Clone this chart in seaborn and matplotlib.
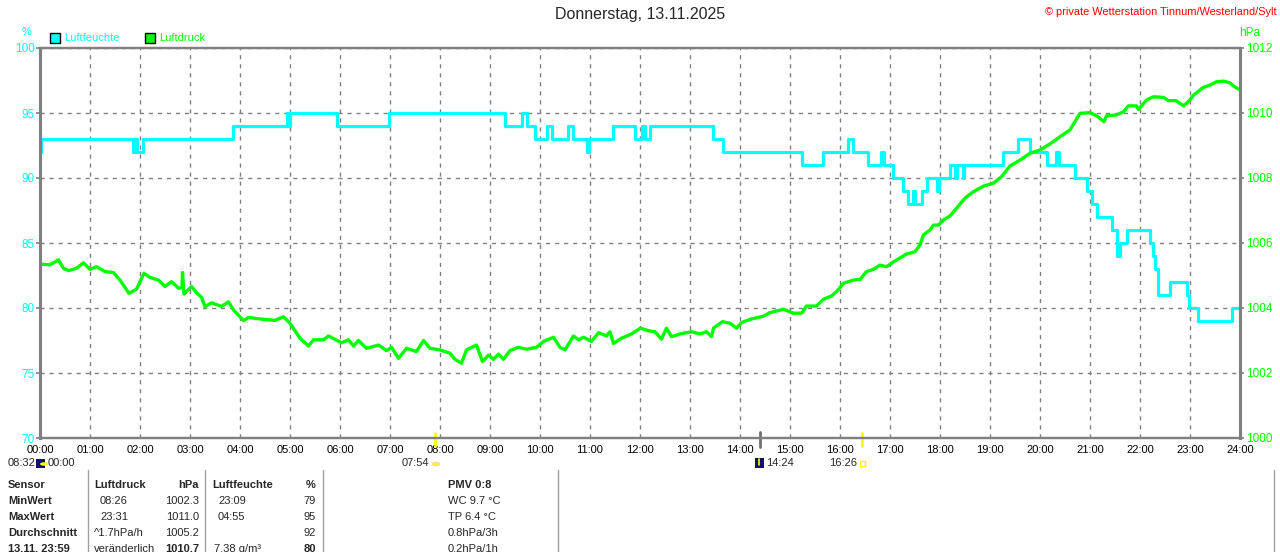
import matplotlib
matplotlib.use("Agg")
import matplotlib.pyplot as plt
import matplotlib.patches as mpatches
from matplotlib.lines import Line2D
import numpy as np
import pandas as pd
import seaborn as sns

# ---------------- data ----------------
hour_ticks = list(range(25))
hour_labels = [f"{h:02d}:00" for h in hour_ticks]
hum_ticks = [70, 75, 80, 85, 90, 95, 100]
press_ticks = [1000, 1002, 1004, 1006, 1008, 1010, 1012]

hum_time = [0, 0.02, 1.86, 1.9, 1.94, 2.06, 3.86, 4.94, 4.98, 5.0, 5.94, 6.98,
            9.3, 9.64, 9.74, 9.9, 10.14, 10.24, 10.56, 10.66, 10.94, 10.98,
            11.46, 11.9, 12.04, 12.1, 12.2, 13.46, 13.66, 15.24, 15.66, 16.16,
            16.26, 16.56, 16.82, 16.88, 17.06, 17.26, 17.36, 17.46, 17.5, 17.64,
            17.74, 17.94, 17.98, 18.2, 18.3, 18.34, 18.45, 18.49, 19.26, 19.56,
            19.8, 20.14, 20.32, 20.38, 20.7, 20.94, 21.04, 21.14, 21.44, 21.54,
            21.6, 21.74, 22.2, 22.26, 22.3, 22.36, 22.6, 22.94, 22.98, 23.16,
            23.84, 24.0]
hum_val = [92, 93, 92, 93, 92, 93, 94, 95, 94, 95, 94, 95,
           94, 95, 94, 93, 94, 93, 94, 93, 92, 93,
           94, 93, 94, 93, 94, 93, 92, 91, 92, 93,
           92, 91, 92, 91, 90, 89, 88, 89, 88, 89,
           90, 89, 90, 91, 90, 91, 90, 91, 92, 93,
           92, 91, 92, 91, 90, 89, 88, 87, 86, 84,
           85, 86, 85, 84, 83, 81, 82, 81, 80, 79,
           80, 80]

press_time = [0.0, 0.2, 0.37, 0.47, 0.57, 0.73, 0.87, 1.0, 1.13, 1.3, 1.47, 1.6,
              1.78, 1.93, 2.08, 2.2, 2.37, 2.5, 2.63, 2.77, 2.84, 2.85, 2.88,
              3.03, 3.13, 3.23, 3.3, 3.43, 3.63, 3.77, 3.87, 4.07, 4.17, 4.47,
              4.7, 4.87, 5.0, 5.2, 5.37, 5.47, 5.67, 5.77, 6.03, 6.17, 6.27,
              6.37, 6.53, 6.77, 6.93, 7.03, 7.17, 7.33, 7.53, 7.67, 7.8, 8.0,
              8.2, 8.3, 8.43, 8.53, 8.73, 8.85, 8.97, 9.07, 9.17, 9.27, 9.4,
              9.57, 9.73, 9.93, 10.07, 10.27, 10.4, 10.5, 10.67, 10.77, 10.87,
              11.03, 11.17, 11.33, 11.4, 11.47, 11.63, 11.83, 12.01, 12.17,
              12.3, 12.43, 12.53, 12.63, 12.8, 13.03, 13.2, 13.33, 13.43, 13.47,
              13.65, 13.8, 13.93, 14.03, 14.2, 14.47, 14.6, 14.87, 15.07, 15.23,
              15.33, 15.53, 15.67, 15.83, 15.93, 16.07, 16.27, 16.4, 16.53,
              16.67, 16.8, 16.93, 17.07, 17.33, 17.5, 17.6, 17.67, 17.8, 17.87,
              17.97, 18.07, 18.2, 18.33, 18.5, 18.67, 18.87, 19.07, 19.23, 19.4,
              19.6, 19.8, 20.0, 20.2, 20.4, 20.6, 20.8, 21.0, 21.15, 21.28,
              21.33, 21.53, 21.67, 21.77, 21.93, 21.97, 22.13, 22.27, 22.47,
              22.57, 22.72, 22.87, 22.97, 23.07, 23.27, 23.4, 23.53, 23.67,
              23.8, 23.87, 24.0]
press_val = [1005.35, 1005.33, 1005.48, 1005.22, 1005.15, 1005.22, 1005.39,
             1005.19, 1005.27, 1005.12, 1005.09, 1004.86, 1004.45, 1004.58,
             1005.07, 1004.94, 1004.86, 1004.66, 1004.81, 1004.61, 1004.63,
             1005.09, 1004.43, 1004.66, 1004.47, 1004.33, 1004.04, 1004.16,
             1004.05, 1004.19, 1003.94, 1003.61, 1003.71, 1003.65, 1003.62,
             1003.73, 1003.53, 1003.07, 1002.83, 1003.02, 1003.02, 1003.14,
             1002.93, 1003.02, 1002.83, 1003.00, 1002.76, 1002.86, 1002.69,
             1002.79, 1002.45, 1002.76, 1002.66, 1003.00, 1002.76, 1002.71,
             1002.61, 1002.42, 1002.30, 1002.71, 1002.86, 1002.35, 1002.55,
             1002.42, 1002.58, 1002.42, 1002.69, 1002.79, 1002.73, 1002.79,
             1002.97, 1003.10, 1002.79, 1002.71, 1003.14, 1003.02, 1003.10,
             1002.97, 1003.24, 1003.14, 1003.27, 1002.91, 1003.07, 1003.20,
             1003.38, 1003.30, 1003.27, 1003.04, 1003.38, 1003.12, 1003.20,
             1003.27, 1003.20, 1003.27, 1003.12, 1003.38, 1003.58, 1003.53,
             1003.38, 1003.55, 1003.65, 1003.75, 1003.86, 1003.96, 1003.84,
             1003.84, 1004.06, 1004.06, 1004.27, 1004.37, 1004.50, 1004.76,
             1004.86, 1004.88, 1005.12, 1005.19, 1005.32, 1005.27, 1005.42,
             1005.66, 1005.73, 1005.94, 1006.25, 1006.40, 1006.55, 1006.55,
             1006.71, 1006.83, 1007.07, 1007.38, 1007.58, 1007.75, 1007.84,
             1008.04, 1008.37, 1008.55, 1008.76, 1008.86, 1009.05, 1009.27,
             1009.48, 1009.99, 1010.01, 1009.90, 1009.73, 1009.91, 1009.94,
             1010.04, 1010.22, 1010.22, 1010.11, 1010.40, 1010.50, 1010.48,
             1010.38, 1010.38, 1010.22, 1010.35, 1010.55, 1010.79, 1010.86,
             1010.96, 1010.98, 1010.93, 1010.83, 1010.71]

# ---------------- style ----------------
CYAN = "#00ffff"
GREEN = "#00ff00"
GRAY = "#808080"
sns.set_style("white")
plt.rcParams["font.family"] = ["Liberation Sans", "DejaVu Sans"]

W, H = 1280, 552
fig = plt.figure(figsize=(W / 100, H / 100), dpi=100)

def fx(x):
    return x / W

def fy(y):
    return 1 - y / H

ax = fig.add_axes([fx(40), fy(438), 1200 / W, 390 / H])
ax2 = ax.twinx()

df_h = pd.DataFrame({"t": hum_time, "v": hum_val})
df_p = pd.DataFrame({"t": press_time, "v": press_val})
sns.lineplot(data=df_h, x="t", y="v", ax=ax, color=CYAN, lw=2.3,
             drawstyle="steps-post", estimator=None, sort=False, legend=False)
sns.lineplot(data=df_p, x="t", y="v", ax=ax2, color=GREEN, lw=2.4,
             estimator=None, sort=False, legend=False)

ax.set_xlim(0, 24)
ax.set_ylim(70, 100)
ax2.set_ylim(1000, 1012)
for a in (ax, ax2):
    a.set_xlabel("")
    a.set_ylabel("")
ax.set_xticks(hour_ticks)
ax.set_xticklabels(hour_labels)
ax.set_yticks(hum_ticks)
ax.set_yticklabels([str(v) for v in hum_ticks])
ax2.set_yticks(press_ticks)
ax2.set_yticklabels([str(v) for v in press_ticks])

ax.grid(True, color=GRAY, linestyle=(0, (3, 3.5)), linewidth=1.0)
ax.set_axisbelow(True)
ax.tick_params(axis="x", length=0, pad=5, labelsize=8, labelcolor="black")
ax.tick_params(axis="y", length=3, width=1.2, color=GRAY, pad=1,
               labelsize=8.5, labelcolor=CYAN)
ax2.tick_params(axis="y", length=3, width=1.2, color=GRAY, pad=1,
                labelsize=8.5, labelcolor=GREEN)
for a in (ax, ax2):
    for s in a.spines.values():
        s.set_color(GRAY)
    a.spines["left"].set_linewidth(2.2)
    a.spines["right"].set_linewidth(2.2)
    a.spines["top"].set_linewidth(1.6)
    a.spines["bottom"].set_linewidth(1.6)

# sunrise / sunset / moon markers on the time axis
tr = ax.get_xaxis_transform()
ax.plot([7.9, 7.9], [0.013, -0.021], color="#ffff00", lw=2, transform=tr, clip_on=False)
ax.plot([16.433, 16.433], [0.013, -0.021], color="#ffff00", lw=2, transform=tr, clip_on=False)
ax.plot([14.4, 14.4], [0.015, -0.023], color="#707070", lw=2, transform=tr, clip_on=False)

# ---------------- texts ----------------
fig.text(0.5, fy(15), "Donnerstag, 13.11.2025", ha="center", va="center", fontsize=11.5)
fig.text(fx(1277), fy(12), "© private Wetterstation Tinnum/Westerland/Sylt",
         ha="right", va="center", fontsize=7.9, color="#ff0000")
fig.text(fx(27), fy(32), "%", ha="center", va="center", fontsize=8, color=CYAN)
fig.text(fx(1250), fy(33), "hPa", ha="center", va="center", fontsize=8.5, color=GREEN)

# legend
for x0, col, lab in [(50, CYAN, "Luftfeuchte"), (145, GREEN, "Luftdruck")]:
    fig.patches.append(mpatches.Rectangle((fx(x0), fy(43)), 10 / W, 10 / H,
                                          facecolor=col, edgecolor="black", lw=1,
                                          transform=fig.transFigure))
    fig.text(fx(x0 + 14), fy(38), lab, ha="left", va="center", fontsize=8, color=col)

# astro labels under axis
fig.text(fx(8), fy(463), "08:32", ha="left", va="center", fontsize=8)
fig.patches.append(mpatches.Rectangle((fx(36), fy(468)), 9 / W, 9 / H, facecolor="#101070",
                                      edgecolor="none", transform=fig.transFigure))
fig.patches.append(mpatches.Circle((fx(44), fy(464)), 4 / W, facecolor="#ffff00",
                                   edgecolor="none", transform=fig.transFigure))
fig.text(fx(48), fy(463), "00:00", ha="left", va="center", fontsize=8)
fig.text(fx(402), fy(463), "07:54", ha="left", va="center", fontsize=8)
fig.patches.append(mpatches.Circle((fx(436), fy(464)), 3.5 / W, facecolor="#ffff00",
                                   edgecolor="#ffe080", lw=1.2, transform=fig.transFigure))
fig.patches.append(mpatches.Rectangle((fx(755), fy(468)), 9 / W, 10 / H, facecolor="#101070",
                                      edgecolor="none", transform=fig.transFigure))
fig.lines.append(Line2D([fx(759), fx(759)], [fy(459), fy(465)], color="#ffff00", lw=1.2,
                        transform=fig.transFigure))
fig.text(fx(766), fy(463), "14:24", ha="left", va="center", fontsize=8)
fig.text(fx(829), fy(463), "16:26", ha="left", va="center", fontsize=8)
fig.patches.append(mpatches.Rectangle((fx(860), fy(466)), 5 / W, 5 / H, facecolor="none",
                                      edgecolor="#ffff00", lw=1, transform=fig.transFigure))

# ---------------- table ----------------
for xs in [88, 205, 323, 558, 1274]:
    fig.lines.append(Line2D([fx(xs), fx(xs)], [fy(470), fy(552)], color="#a0a0a0", lw=1,
                            transform=fig.transFigure))

row_y = [485, 501, 517, 533, 549]
col0 = ["Sensor", "MinWert", "MaxWert", "Durchschnitt", "13.11. 23:59"]
for y, t in zip(row_y, col0):
    fig.text(fx(8), fy(y), t, ha="left", va="center", fontsize=8, fontweight="bold")

c1_left = [("Luftdruck", 94, True), ("08:26", 100, False), ("23:31", 100, False),
           ("^1.7hPa/h", 94, False), ("veränderlich", 94, False)]
c1_right = [("hPa", True), ("1002.3", False), ("1011.0", False), ("1005.2", False),
            ("1010.7", True)]
c2_left = [("Luftfeuchte", 212, True), ("23:09", 218, False), ("04:55", 218, False),
           ("", 218, False), ("7.38 g/m³", 214, False)]
c2_right = [("%", True), ("79", False), ("95", False), ("92", False), ("80", True)]
c3 = [("PMV 0:8", True), ("WC 9.7 °C", False), ("TP 6.4 °C", False),
      ("0.8hPa/3h", False), ("0.2hPa/1h", False)]

for i, y in enumerate(row_y):
    t, x, b = c1_left[i]
    fig.text(fx(x), fy(y), t, ha="left", va="center", fontsize=8,
             fontweight="bold" if b else "normal")
    t, b = c1_right[i]
    fig.text(fx(199), fy(y), t, ha="right", va="center", fontsize=8,
             fontweight="bold" if b else "normal")
    t, x, b = c2_left[i]
    fig.text(fx(x), fy(y), t, ha="left", va="center", fontsize=8,
             fontweight="bold" if b else "normal")
    t, b = c2_right[i]
    fig.text(fx(316), fy(y), t, ha="right", va="center", fontsize=8,
             fontweight="bold" if b else "normal")
    t, b = c3[i]
    fig.text(fx(448), fy(y), t, ha="left", va="center", fontsize=8,
             fontweight="bold" if b else "normal")

fig.savefig("out.png", dpi=100)
